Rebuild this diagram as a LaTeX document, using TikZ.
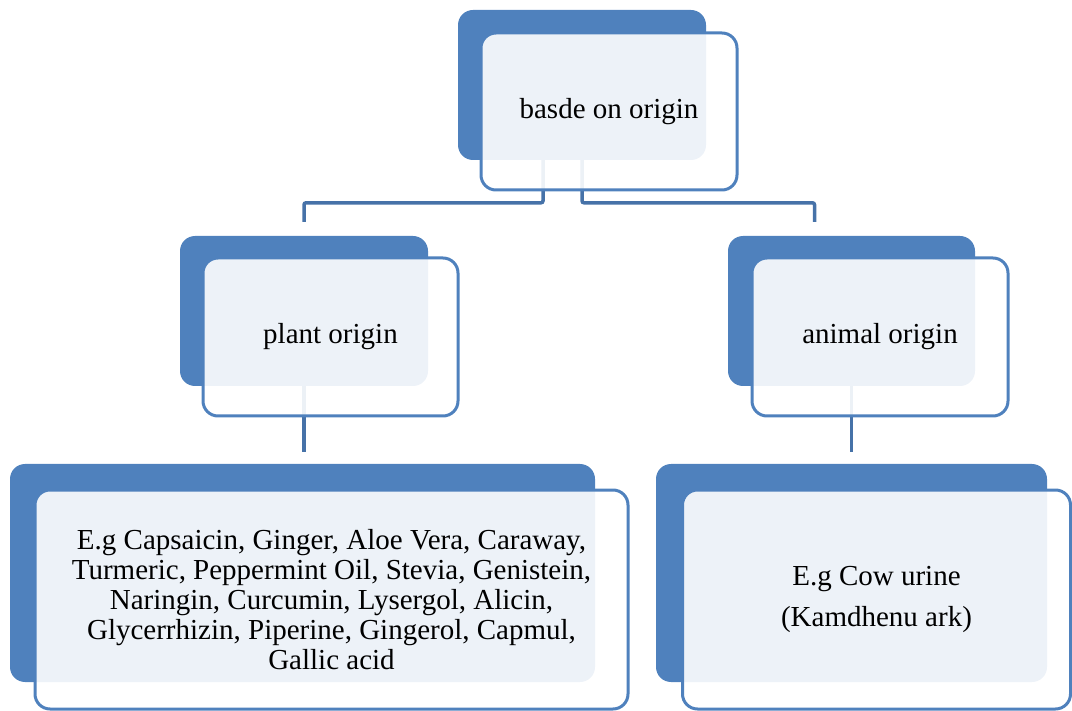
\documentclass[tikz,border=0pt]{standalone}
\usepackage{fontspec}
\setmainfont{Liberation Serif}
\usepackage{tikz}

\definecolor{boxblue}{HTML}{4F81BD}
\definecolor{linkblue}{HTML}{4672A8}

\tikzset{
  backbox/.style={fill=boxblue, rounded corners=15pt, inner sep=0pt},
  frontbox/.style={draw=boxblue, line width=3pt, fill=white, fill opacity=0.9,
    text opacity=1, rounded corners=15pt, inner sep=0pt, align=center,
    font=\fontsize{29}{30}\selectfont},
  link/.style={draw=linkblue, line width=3.5pt, rounded corners=2pt}
}

\begin{document}
\begin{tikzpicture}[x=1pt, y=-1pt]
    \useasboundingbox (0,0) rectangle (1072,711);

    % back boxes
    \node[backbox, minimum width=248pt, minimum height=150pt] (rootback) at (582,85) {};
    \node[backbox, minimum width=248pt, minimum height=150pt] (plantback) at (304,311) {};
    \node[backbox, minimum width=247pt, minimum height=150pt] (animalback) at (851.5,311) {};
    \node[backbox, minimum width=585pt, minimum height=218pt] (plantexback) at (302.5,573) {};
    \node[backbox, minimum width=391pt, minimum height=218pt] (animalexback) at (851.5,573) {};

    % connectors
    \coordinate (plantin) at ([yshift=14pt]plantback.north);
    \coordinate (animalin) at ([xshift=-37pt, yshift=14pt]animalback.north);
    \coordinate (plantexin) at ([yshift=12pt]plantexback.north);
    \coordinate (animalexin) at ([yshift=12pt]animalexback.north);
    \draw[link] ([xshift=-39pt]rootback.south) |- ([yshift=19pt]plantin) -- (plantin);
    \draw[link] (rootback.south) |- ([yshift=19pt]animalin) -- (animalin);
    \draw[link] (plantback.south) -- (plantback.south |- plantexin);
    \draw[link] (animalback.south) -- (animalback.south |- animalexin);

    % front boxes
    \node[frontbox, minimum width=256pt, minimum height=157pt] (root) at (609,111.5) {basde on origin};
    \node[frontbox, minimum width=255pt, minimum height=158pt] (plant) at (330.5,337) {plant origin};
    \node[frontbox, minimum width=256pt, minimum height=158pt] (animal) at (880,337) {animal origin};
    \node[frontbox, minimum width=593pt, minimum height=219pt] (plantex) at (331.5,599.5)
      {E.g Capsaicin, Ginger, Aloe Vera, Caraway,\\
       Turmeric, Peppermint Oil, Stevia, Genistein,\\
       Naringin, Curcumin, Lysergol, Alicin,\\
       Glycerrhizin, Piperine, Gingerol, Capmul,\\
       Gallic acid};
    \node[frontbox, minimum width=388pt, minimum height=219pt,
          font=\fontsize{29}{41}\selectfont] (animalex) at (876.5,599.5)
      {E.g Cow urine\\(Kamdhenu ark)};
\end{tikzpicture}
\end{document}
